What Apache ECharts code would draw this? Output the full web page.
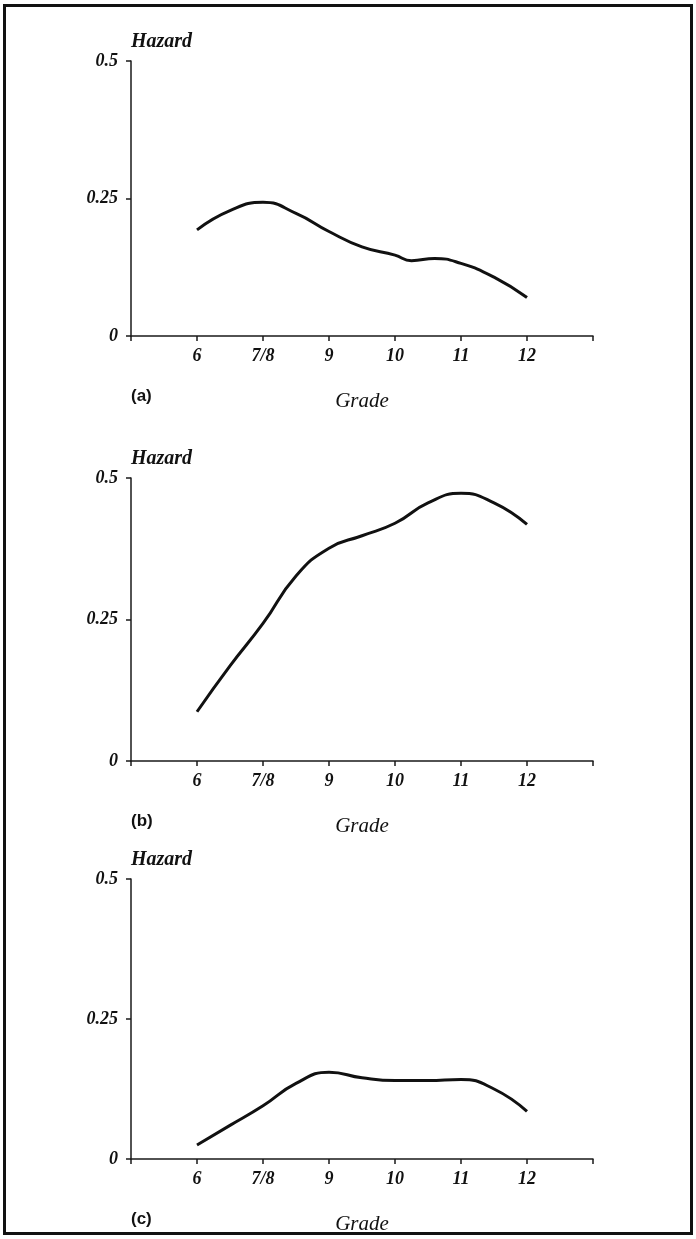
<!DOCTYPE html>
<html>
<head>
<meta charset="utf-8">
<script src="https://cdn.jsdelivr.net/npm/echarts@6/dist/echarts.min.js"></script>
<style>
  html, body { margin: 0; padding: 0; background: #fff; }
  #frame { position: absolute; left: 3px; top: 4px; width: 690px; height: 1231px; border: 3px solid #111; box-sizing: border-box; }
  #chart { position: absolute; left: 0; top: 0; width: 696px; height: 1239px; }
</style>
</head>
<body>
<div id="frame"></div>
<div id="chart"></div>
<script>
// Grade categories along the x axis (position index 0..5)
const grades = ['6', '7/8', '9', '10', '11', '12'];
// Hazard tick values on the y axis
const hazardTicks = [0, 0.25, 0.5];
// Sample positions (grade index) where each hazard curve is read
const positionsA = [0, 0.5, 1, 1.5, 2, 2.5, 3, 3.25, 3.6, 4, 4.5, 5];
const hazardA    = [0.193, 0.228, 0.243, 0.223, 0.19, 0.162, 0.147, 0.137, 0.141, 0.132, 0.107, 0.07];
const positionsB = [0, 0.5, 1, 1.5, 2, 2.5, 3, 3.5, 4, 4.5, 5];
const hazardB    = [0.087, 0.168, 0.243, 0.327, 0.376, 0.398, 0.42, 0.456, 0.473, 0.456, 0.418];
const positionsC = [0, 0.5, 1, 1.5, 2, 2.5, 3, 3.5, 4, 4.5, 5];
const hazardC    = [0.025, 0.06, 0.095, 0.135, 0.155, 0.145, 0.14, 0.14, 0.142, 0.125, 0.085];
const panelLetters = ['(a)', '(b)', '(c)'];

const pairs = (xs, ys) => xs.map((x, i) => [x, ys[i]]);
const panels = [
  { top: 61,  height: 275, data: pairs(positionsA, hazardA) },
  { top: 478, height: 283, data: pairs(positionsB, hazardB) },
  { top: 879, height: 280, data: pairs(positionsC, hazardC) }
];

const serifBI = { fontFamily: 'Liberation Serif', fontStyle: 'italic', fontWeight: 'bold', color: '#111' };
const axisLine = { onZero: false, lineStyle: { color: '#1a1a1a', width: 1.5 } };

const option = {
  animation: false,
  backgroundColor: 'transparent',
  grid: panels.map(p => ({ left: 131, right: 103, top: p.top, height: p.height })),
  xAxis: panels.map((p, k) => ({
    type: 'value', gridIndex: k, min: -1, max: 6, interval: 1,
    axisLine: axisLine,
    axisTick: { show: true, length: 5, lineStyle: { color: '#1a1a1a', width: 1.5 } },
    splitLine: { show: false },
    axisLabel: Object.assign({
      fontSize: 18, margin: 11,
      formatter: v => (v >= 0 && v < grades.length ? grades[v] : '')
    }, serifBI),
    name: 'Grade', nameLocation: 'middle', nameGap: 55,
    nameTextStyle: { fontFamily: 'Liberation Serif', fontStyle: 'italic', fontWeight: 'normal', fontSize: 21, color: '#111' }
  })),
  yAxis: panels.map((p, k) => ({
    type: 'value', gridIndex: k, min: hazardTicks[0], max: hazardTicks[2], interval: 0.25,
    axisLine: Object.assign({ show: true }, axisLine),
    axisTick: { show: true, length: 5, lineStyle: { color: '#1a1a1a', width: 1.5 } },
    splitLine: { show: false },
    axisLabel: Object.assign({ fontSize: 18, margin: 13, formatter: v => String(v) }, serifBI),
    name: 'Hazard', nameLocation: 'end', nameGap: 9,
    nameTextStyle: { fontFamily: 'Liberation Serif', fontStyle: 'italic', fontWeight: 'bold', fontSize: 20, color: '#111', align: 'left' }
  })),
  title: panels.map((p, k) => ({
    text: panelLetters[k], left: 126, top: p.top + p.height + 47,
    textStyle: { fontFamily: 'Liberation Sans', fontWeight: 'bold', fontSize: 17, color: '#111' }
  })),
  series: panels.map((p, k) => ({
    type: 'line', xAxisIndex: k, yAxisIndex: k, data: p.data,
    smooth: 0.5, showSymbol: false,
    lineStyle: { color: '#111', width: 3 }
  }))
};

echarts.init(document.getElementById('chart'), null, { renderer: 'canvas' }).setOption(option);
</script>
</body>
</html>
